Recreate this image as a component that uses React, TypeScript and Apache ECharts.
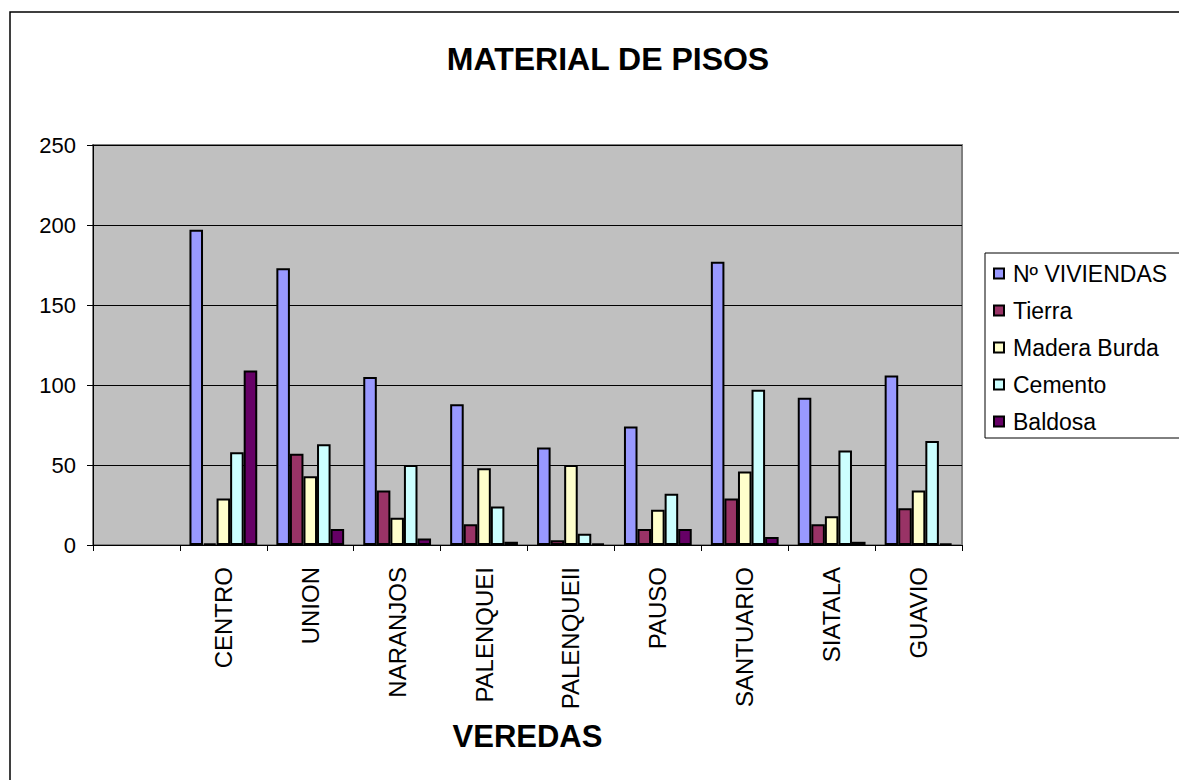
import React, { useEffect, useRef } from "react";
import * as echarts from "echarts";

const categories = ["", "CENTRO", "UNION", "NARANJOS", "PALENQUEI", "PALENQUEII", "PAUSO", "SANTUARIO", "SIATALA", "GUAVIO"];
const seriesNames = ["Nº VIVIENDAS", "Tierra", "Madera Burda", "Cemento", "Baldosa"];
const viviendas = [null, 197, 173, 105, 88, 61, 74, 177, 92, 106];
const tierra = [null, 1, 57, 34, 13, 3, 10, 29, 13, 23];
const maderaBurda = [null, 29, 43, 17, 48, 50, 22, 46, 18, 34];
const cemento = [null, 58, 63, 50, 24, 7, 32, 97, 59, 65];
const baldosa = [null, 109, 10, 4, 2, 1, 10, 5, 2, 1];
const yTicks = { min: 0, max: 250, interval: 50 };
const colors = ["#9999FF", "#993366", "#FFFFCC", "#CCFFFF", "#660066"];

const FONT = "'Liberation Sans', Arial, sans-serif";

export default function App() {
  const ref = useRef<HTMLDivElement>(null);
  useEffect(() => {
    if (!ref.current) return;
    const chart = echarts.init(ref.current, null, { renderer: "svg" });
    const values = [viviendas, tierra, maderaBurda, cemento, baldosa];
    chart.setOption({
      animation: false,
      backgroundColor: "#FFFFFF",
      textStyle: { fontFamily: FONT, color: "#000" },
      title: {
        text: "MATERIAL DE PISOS",
        left: 603,
        top: 38,
        textAlign: "center",
        textStyle: { fontFamily: FONT, fontSize: 32, fontWeight: "bold", color: "#000" },
      },
      graphic: [
        {
          type: "rect",
          z: -10,
          shape: { x: 10, y: 12, width: 1200, height: 800 },
          style: { fill: "none", stroke: "#000", lineWidth: 1.5 },
        },
        {
          type: "rect",
          z: 0,
          shape: { x: 985, y: 253, width: 250, height: 185 },
          style: { fill: "#FFFFFF", stroke: "#000", lineWidth: 1 },
        },
      ],
      legend: {
        orient: "vertical",
        left: 993,
        top: 262,
        z: 5,
        itemWidth: 10,
        itemHeight: 10,
        itemGap: 14,
        icon: "rect",
        padding: 0,
        data: seriesNames,
        textStyle: { fontFamily: FONT, fontSize: 23, color: "#000", padding: [0, 0, 0, 4] },
        itemStyle: { borderColor: "#000", borderWidth: 2 },
      },
      grid: {
        left: 93,
        top: 145,
        width: 869,
        height: 400,
        show: true,
        backgroundColor: "#C0C0C0",
        borderColor: "#808080",
        borderWidth: 2,
      },
      xAxis: {
        type: "category",
        data: categories,
        name: "VEREDAS",
        nameLocation: "middle",
        nameGap: 176,
        nameTextStyle: { fontFamily: FONT, fontSize: 31, fontWeight: "bold", color: "#000" },
        axisLine: { show: true, lineStyle: { color: "#000", width: 1 } },
        axisTick: { show: true, length: 6, lineStyle: { color: "#000" } },
        axisLabel: {
          rotate: 90,
          margin: 22,
          interval: 0,
          fontFamily: FONT,
          fontSize: 24,
          color: "#000",
        },
      },
      yAxis: {
        type: "value",
        min: yTicks.min,
        max: yTicks.max,
        interval: yTicks.interval,
        axisLine: { show: true, lineStyle: { color: "#000", width: 1 } },
        axisTick: { show: true, length: 6, lineStyle: { color: "#000" } },
        splitLine: { show: true, lineStyle: { color: "#000", width: 1 } },
        axisLabel: { margin: 17, fontFamily: FONT, fontSize: 22, color: "#000" },
      },
      series: seriesNames.map((name, i) => ({
        name,
        type: "bar",
        data: values[i],
        barGap: "0%",
        barCategoryGap: "22%",
        itemStyle: { color: colors[i], borderColor: "#000", borderWidth: 2 },
      })),
    });
    return () => chart.dispose();
  }, []);
  return (
    <div
      ref={ref}
      style={{ position: "absolute", left: 0, top: 0, width: 1179, height: 780 }}
    />
  );
}
